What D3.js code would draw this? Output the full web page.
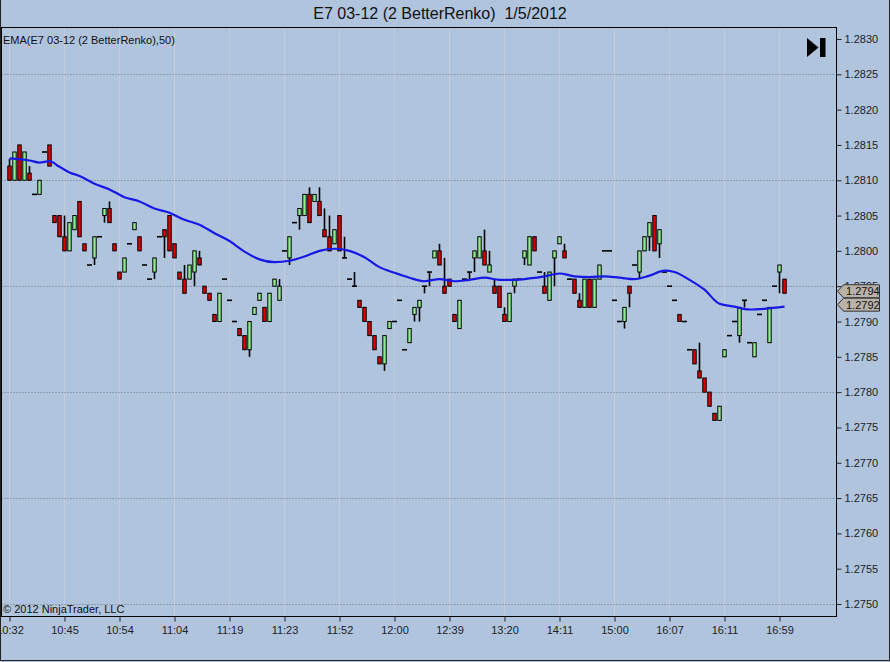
<!DOCTYPE html>
<html>
<head>
<meta charset="utf-8">
<script src="https://cdn.jsdelivr.net/npm/d3@7"></script>
<style>
html, body { margin: 0; padding: 0; background: #B0C4DE; }
svg { display: block; font-family: "Liberation Sans", Arial, sans-serif; }
</style>
</head>
<body>
<svg id="chart" width="890" height="662"></svg>
<script>
var title = "E7 03-12 (2 BetterRenko)  1/5/2012";
var emaLabel = "EMA(E7 03-12 (2 BetterRenko),50)";
var copyright = "\u00A9 2012 NinjaTrader, LLC";

// renko bars, one entry per bar (open == close means a flat bar)
var opens = [
  1.2812, 1.2810, 1.2815, 1.2810, 1.2811, 1.2808, 1.2808, 1.2814, 1.2815, 1.2805,
  1.2805, 1.2802, 1.2800, 1.2803, 1.2807, 1.2801, 1.2798, 1.2799, 1.2802, 1.2805,
  1.2806, 1.2801, 1.2797, 1.2797, 1.2801, 1.2803, 1.2802, 1.2798, 1.2796, 1.2797,
  1.2802, 1.2803, 1.2805, 1.2801, 1.2797, 1.2796, 1.2796, 1.2797, 1.2799, 1.2795,
  1.2794, 1.2791, 1.2790, 1.2796, 1.2793, 1.2790, 1.2789, 1.2788, 1.2786, 1.2791,
  1.2793, 1.2792, 1.2790, 1.2795, 1.2793, 1.2800, 1.2799, 1.2804, 1.2805, 1.2805,
  1.2808, 1.2807, 1.2807, 1.2803, 1.2802, 1.2801, 1.2805, 1.2799, 1.2796, 1.2795,
  1.2793, 1.2792, 1.2790, 1.2788, 1.2785, 1.2784, 1.2789, 1.2790, 1.2793, 1.2786,
  1.2787, 1.2791, 1.2792, 1.2795, 1.2797, 1.2799, 1.2800, 1.2795, 1.2796, 1.2791,
  1.2789, 1.2796, 1.2797, 1.2799, 1.2799, 1.2800, 1.2797, 1.2795, 1.2795, 1.2791,
  1.2790, 1.2795, 1.2796, 1.2799, 1.2798, 1.2802, 1.2797, 1.2795, 1.2793, 1.2799,
  1.2801, 1.2800, 1.2796, 1.2796, 1.2793, 1.2792, 1.2796, 1.2792, 1.2796, 1.2800,
  1.2800, 1.2793, 1.2790, 1.2790, 1.2795, 1.2798, 1.2797, 1.2800, 1.2802, 1.2805,
  1.2801, 1.2797, 1.2795, 1.2793, 1.2791, 1.2790, 1.2786, 1.2786, 1.2783, 1.2782,
  1.2780, 1.2777, 1.2776, 1.2785, 1.2788, 1.2790, 1.2788, 1.2793, 1.2787, 1.2785,
  1.2791, 1.2793, 1.2787, 1.2795, 1.2797, 1.2796
];
var closes = [
  1.2810, 1.2814, 1.2810, 1.2814, 1.2810, 1.2808, 1.2810, 1.2814, 1.2812, 1.2804,
  1.2802, 1.2800, 1.2804, 1.2805, 1.2802, 1.2800, 1.2798, 1.2802, 1.2802, 1.2806,
  1.2804, 1.2800, 1.2796, 1.2799, 1.2801, 1.2804, 1.2800, 1.2798, 1.2796, 1.2799,
  1.2802, 1.2802, 1.2800, 1.2799, 1.2796, 1.2794, 1.2798, 1.2800, 1.2798, 1.2794,
  1.2793, 1.2790, 1.2794, 1.2796, 1.2793, 1.2790, 1.2788, 1.2786, 1.2790, 1.2792,
  1.2794, 1.2790, 1.2794, 1.2796, 1.2795, 1.2800, 1.2802, 1.2804, 1.2806, 1.2808,
  1.2804, 1.2808, 1.2805, 1.2802, 1.2800, 1.2803, 1.2800, 1.2799, 1.2796, 1.2795,
  1.2792, 1.2790, 1.2788, 1.2786, 1.2784, 1.2788, 1.2790, 1.2790, 1.2793, 1.2786,
  1.2789, 1.2792, 1.2793, 1.2795, 1.2797, 1.2800, 1.2798, 1.2794, 1.2795, 1.2790,
  1.2793, 1.2796, 1.2797, 1.2800, 1.2802, 1.2798, 1.2798, 1.2794, 1.2792, 1.2790,
  1.2794, 1.2796, 1.2796, 1.2800, 1.2802, 1.2800, 1.2797, 1.2794, 1.2797, 1.2800,
  1.2802, 1.2799, 1.2796, 1.2794, 1.2792, 1.2796, 1.2792, 1.2796, 1.2798, 1.2800,
  1.2800, 1.2793, 1.2790, 1.2792, 1.2794, 1.2798, 1.2800, 1.2802, 1.2804, 1.2800,
  1.2803, 1.2797, 1.2795, 1.2793, 1.2790, 1.2790, 1.2786, 1.2784, 1.2782, 1.2780,
  1.2778, 1.2776, 1.2778, 1.2786, 1.2788, 1.2790, 1.2792, 1.2793, 1.2787, 1.2787,
  1.2791, 1.2793, 1.2792, 1.2795, 1.2798, 1.2794
];
// wicks that reach past the body, keyed by bar number
var highWicks = {
  0: 1.2813, 4: 1.2812, 11: 1.2805, 20: 1.2807, 35: 1.2798, 38: 1.2800, 54: 1.2796,
  60: 1.2809, 62: 1.2809, 63: 1.2806, 64: 1.2805, 67: 1.2802, 69: 1.2797, 86: 1.2801,
  87: 1.2799, 95: 1.2803, 96: 1.2800, 97: 1.2796, 99: 1.2792, 107: 1.2797, 111: 1.2801,
  114: 1.2794, 138: 1.2787
};
var lowWicks = {
  17: 1.2798, 19: 1.2804, 29: 1.2796, 31: 1.2799, 37: 1.2795, 48: 1.2785, 56: 1.2798,
  58: 1.2803, 75: 1.2783, 81: 1.2790, 82: 1.2790, 83: 1.2794, 84: 1.2795, 92: 1.2796,
  93: 1.2797, 101: 1.2794, 103: 1.2798, 109: 1.2795, 123: 1.2789, 124: 1.2792,
  126: 1.2796, 128: 1.2800, 130: 1.2799, 146: 1.2787, 147: 1.2792, 154: 1.2794
};

// EMA(50) at these bars
var emaBars = [0, 4, 6, 8, 10, 12, 14, 17, 20, 23, 26, 29, 32, 35, 38, 41, 44, 47, 50, 53,
  56, 59, 62, 65, 68, 71, 74, 77, 80, 83, 86, 89, 92, 95, 98, 101, 104, 107, 110, 113,
  116, 119, 122, 125, 128, 131, 133, 136, 139, 142, 145, 148, 151, 155];
var emaValues = [1.28131, 1.28128, 1.28125, 1.28127, 1.28119, 1.28111, 1.28106, 1.28095,
  1.28087, 1.28076, 1.28070, 1.28060, 1.28054, 1.28044, 1.28037, 1.28025, 1.28014, 1.27999,
  1.27988, 1.27984, 1.27986, 1.27992, 1.28000, 1.28003, 1.28000, 1.27991, 1.27977, 1.27969,
  1.27962, 1.27957, 1.27960, 1.27957, 1.27959, 1.27962, 1.27959, 1.27959, 1.27961, 1.27964,
  1.27968, 1.27964, 1.27963, 1.27964, 1.27962, 1.27960, 1.27965, 1.27972, 1.27970, 1.27959,
  1.27945, 1.27925, 1.27921, 1.27917, 1.27918, 1.27921];

var timeBars = [0, 11, 22, 33, 44, 55, 66, 77, 88, 99, 110, 121, 132, 143, 154];
var timeLabels = ["10:32", "10:45", "10:54", "11:04", "11:19", "11:23", "11:52", "12:00",
  "12:39", "13:20", "14:11", "15:00", "16:07", "16:11", "16:59"];
var priceTicks = [1.2750, 1.2755, 1.2760, 1.2765, 1.2770, 1.2775, 1.2780, 1.2785, 1.2790,
  1.2795, 1.2800, 1.2805, 1.2810, 1.2815, 1.2820, 1.2825, 1.2830];
var gridPrices = [1.2750, 1.2765, 1.2780, 1.2795, 1.2810, 1.2825];

var svg = d3.select("#chart");
var plot = {left: 1.5, top: 27.5, right: 836.5, bottom: 616.5};

var x = d3.scaleLinear().domain([0, 155]).range([9.5, 784.5]);
var y = d3.scaleLinear().domain([1.2750, 1.2830]).range([604, 39]);

svg.append("rect").attr("width", 890).attr("height", 662).attr("fill", "#B0C4DE");

// title
svg.append("text")
    .attr("x", 440).attr("y", 19)
    .attr("text-anchor", "middle")
    .style("font-size", "16px")
    .style("white-space", "pre")
    .attr("fill", "#111")
    .text(title);

// grid
svg.append("g").selectAll("line").data(timeBars).join("line")
    .attr("x1", function(d) { return x(d); }).attr("x2", function(d) { return x(d); })
    .attr("y1", plot.top).attr("y2", plot.bottom)
    .attr("stroke", "#C3CDDC").attr("stroke-width", 1);
svg.append("g").selectAll("line").data(gridPrices).join("line")
    .attr("x1", plot.left).attr("x2", plot.right)
    .attr("y1", function(d) { return Math.round(y(d)) + 0.5; })
    .attr("y2", function(d) { return Math.round(y(d)) + 0.5; })
    .attr("stroke", "#6E7580").attr("stroke-width", 1)
    .attr("stroke-dasharray", "1,2");

// bars
var bars = opens.map(function(o, i) {
  var c = closes[i];
  return {
    i: i, o: o, c: c,
    h: highWicks[i] != null ? highWicks[i] : Math.max(o, c),
    l: lowWicks[i] != null ? lowWicks[i] : Math.min(o, c)
  };
});
var g = svg.append("g");
g.selectAll(".wick").data(bars.filter(function(d) { return d.h > d.l; })).join("line")
    .attr("class", "wick")
    .attr("x1", function(d) { return x(d.i); }).attr("x2", function(d) { return x(d.i); })
    .attr("y1", function(d) { return y(d.h); }).attr("y2", function(d) { return y(d.l); })
    .attr("stroke", "#000").attr("stroke-width", 1.6);
g.selectAll(".body").data(bars.filter(function(d) { return d.o !== d.c; })).join("rect")
    .attr("class", "body")
    .attr("x", function(d) { return x(d.i) - 1.7; })
    .attr("width", 3.4)
    .attr("y", function(d) { return y(Math.max(d.o, d.c)); })
    .attr("height", function(d) { return y(Math.min(d.o, d.c)) - y(Math.max(d.o, d.c)); })
    .attr("fill", function(d) { return d.c > d.o ? "#90EE90" : "#E00000"; })
    .attr("stroke", "#000").attr("stroke-width", 1);
g.selectAll(".flat").data(bars.filter(function(d) { return d.o === d.c; })).join("line")
    .attr("class", "flat")
    .attr("x1", function(d) { return x(d.i) - 2.5; }).attr("x2", function(d) { return x(d.i) + 2.5; })
    .attr("y1", function(d) { return y(d.o); }).attr("y2", function(d) { return y(d.o); })
    .attr("stroke", "#000").attr("stroke-width", 1.6);

// EMA
var ema = emaBars.map(function(b, k) { return {i: b, v: emaValues[k]}; });
var line = d3.line()
    .x(function(d) { return x(d.i); })
    .y(function(d) { return y(d.v); })
    .curve(d3.curveMonotoneX);
svg.append("path").datum(ema)
    .attr("fill", "none")
    .attr("stroke", "#1818E6")
    .attr("stroke-width", 2.2)
    .attr("stroke-linejoin", "round")
    .attr("d", line);

// plot frame
svg.append("rect")
    .attr("x", plot.left).attr("y", plot.top)
    .attr("width", plot.right - plot.left).attr("height", plot.bottom - plot.top)
    .attr("fill", "none").attr("stroke", "#000").attr("stroke-width", 1);

// axes
var yAxis = d3.axisRight(y).tickValues(priceTicks).tickSize(5).tickPadding(3)
    .tickFormat(d3.format(".4f"));
var ya = svg.append("g").attr("transform", "translate(" + plot.right + ",0)").call(yAxis);
ya.select(".domain").remove();
ya.attr("font-family", null).attr("font-size", null);
ya.selectAll("line").attr("stroke", "#222");
ya.selectAll("text").style("font-size", "11px").attr("fill", "#222");

var xAxis = d3.axisBottom(x).tickValues(timeBars).tickSize(5).tickPadding(5)
    .tickFormat(function(d, k) { return timeLabels[k]; });
var xa = svg.append("g").attr("transform", "translate(0," + plot.bottom + ")").call(xAxis);
xa.select(".domain").remove();
xa.attr("font-family", null).attr("font-size", null);
xa.selectAll("line").attr("stroke", "#222");
xa.selectAll("text").style("font-size", "11px").attr("fill", "#222");

// last value markers
var markers = [closes[closes.length - 1], emaValues[emaValues.length - 1]];
var mk = svg.append("g").selectAll("g").data(markers).join("g")
    .attr("transform", function(d) { return "translate(0," + (y(d) - 2) + ")"; });
mk.append("path")
    .attr("d", "M837.5,0 L843.5,-6.5 L879.5,-6.5 L879.5,6.5 L843.5,6.5 Z")
    .attr("fill", "#BAB1A7").attr("stroke", "#333").attr("stroke-width", 1);
mk.append("text")
    .attr("x", 846).attr("y", 4)
    .style("font-size", "11px").attr("fill", "#111")
    .text(function(d) { return d3.format(".4f")(d); });

// labels inside the panel
svg.append("text").attr("x", 3).attr("y", 44)
    .style("font-size", "11px").attr("fill", "#111").text(emaLabel);
svg.append("text").attr("x", 3).attr("y", 613)
    .style("font-size", "11px").attr("fill", "#111").text(copyright);

// go-to-end button
svg.append("path").attr("d", "M807,38 L818.5,47.5 L807,57 Z").attr("fill", "#000");
svg.append("rect").attr("x", 820).attr("y", 38).attr("width", 5.5).attr("height", 19).attr("fill", "#000");

// outer frame
svg.append("path")
    .attr("d", "M0.5,0 V660.5 H889.5 V0")
    .attr("fill", "none").attr("stroke", "#222").attr("stroke-width", 1);
</script>
</body>
</html>
